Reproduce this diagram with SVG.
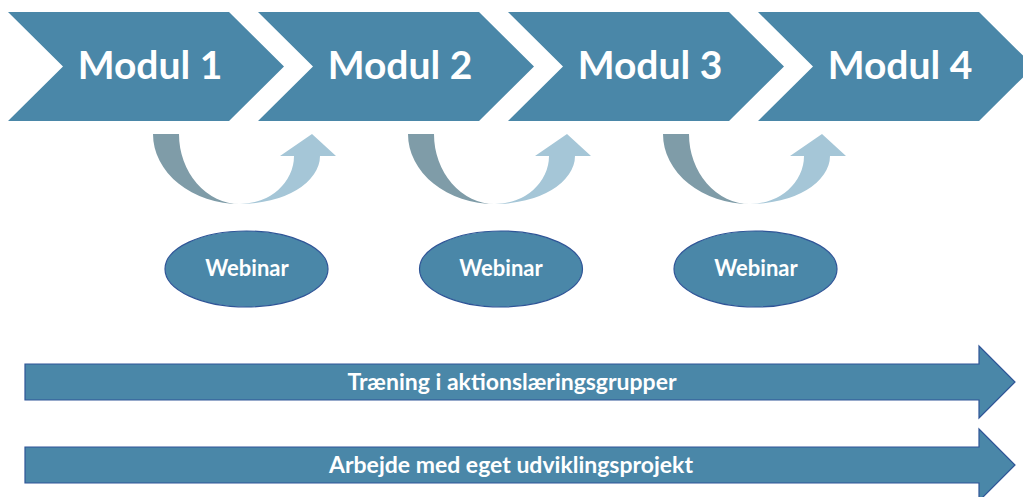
<svg xmlns="http://www.w3.org/2000/svg" width="1023" height="497" viewBox="0 0 1023 497">
<style>
.chev{fill:#4a87a8}
.mt{font-family:Lato,"Open Sans",sans-serif;font-weight:bold;font-size:39px;fill:#ffffff;text-anchor:middle}
.cl{fill:#7f9ca8}
.cr{fill:#a5c6d7}
.ell{fill:#4a87a8;stroke:#2f5597;stroke-width:1.2}
.wt{font-family:Lato,"Open Sans",sans-serif;font-weight:bold;font-size:22px;fill:#ffffff;text-anchor:middle}
.bar{fill:#4a87a8;stroke:#2f5597;stroke-width:1.2}
.bt{font-family:Lato,"Open Sans",sans-serif;font-weight:bold;font-size:23px;fill:#ffffff;text-anchor:middle}
</style>
<defs>
<g id="uturn">
<path class="cl" d="M0,0 L26,0 A61,70 0 0 0 87,70 A87,70 0 0 1 0,0 Z"/>
<path class="cr" d="M87,70 A54,48 0 0 0 141,22 L127,22 L159,0 L183,22 L167,22 A80,48 0 0 1 87,70 Z"/>
</g>
</defs>
<g id="modul1"><polygon class="chev" points="8,12 229,12 284,66.5 229,121 8,121 63,66.5"/><text class="mt" x="150" y="79">Modul 1</text></g>
<g id="modul2"><polygon class="chev" points="258,12 479,12 534,66.5 479,121 258,121 313,66.5"/><text class="mt" x="400" y="79">Modul 2</text></g>
<g id="modul3"><polygon class="chev" points="508,12 729,12 784,66.5 729,121 508,121 563,66.5"/><text class="mt" x="650" y="79">Modul 3</text></g>
<g id="modul4"><polygon class="chev" points="758,12 979,12 1034,66.5 979,121 758,121 813,66.5"/><text class="mt" x="900" y="79">Modul 4</text></g>
<g id="connectors">
<use href="#uturn" x="153" y="134"/>
<use href="#uturn" x="408" y="134"/>
<use href="#uturn" x="663" y="134"/>
</g>
<g id="webinar1"><ellipse class="ell" cx="246.5" cy="269" rx="81.5" ry="38"/><text class="wt" x="247" y="276">Webinar</text></g>
<g id="webinar2"><ellipse class="ell" cx="501" cy="269" rx="81.5" ry="38"/><text class="wt" x="501" y="276">Webinar</text></g>
<g id="webinar3"><ellipse class="ell" cx="755.5" cy="269" rx="81.5" ry="38"/><text class="wt" x="756" y="276">Webinar</text></g>
<g id="bar1"><polygon class="bar" points="25,364 979,364 979,346 1015,382 979,418 979,400 25,400"/><text class="bt" x="512" y="390">Træning i aktionslæringsgrupper</text></g>
<g id="bar2"><polygon class="bar" points="25,447 979,447 979,429 1015,465 979,501 979,483 25,483"/><text class="bt" x="511" y="473">Arbejde med eget udviklingsprojekt</text></g>
</svg>
